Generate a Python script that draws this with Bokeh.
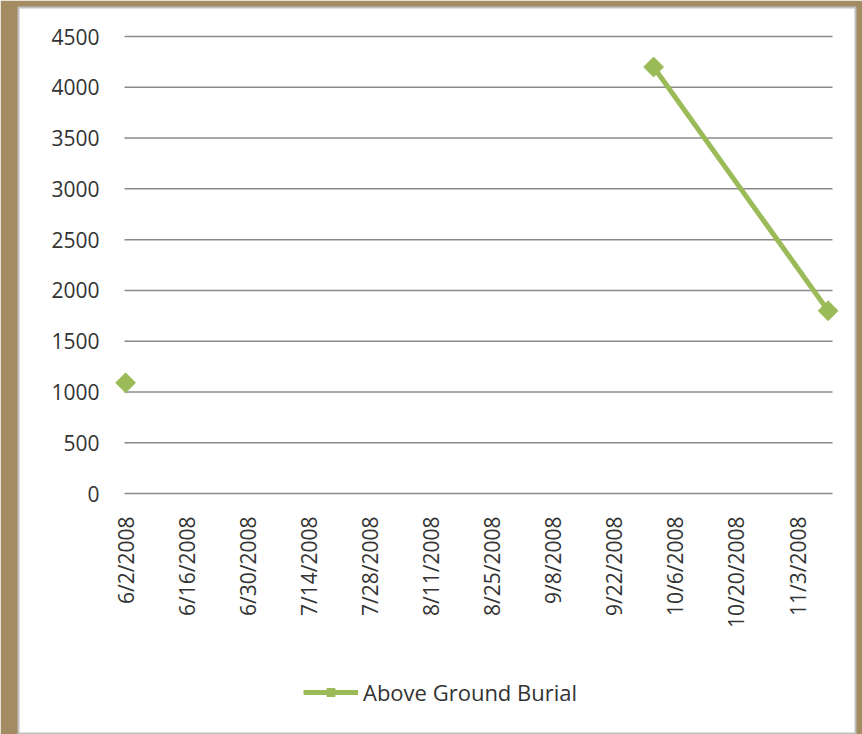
import math
from datetime import date, datetime
from bokeh.plotting import figure
from bokeh.models import Range1d, FixedTicker, Legend, LegendItem
from bokeh.embed import file_html
from bokeh.resources import INLINE

# ---- data ----
series_name = "Above Ground Burial"
point_dates = ["6/2/2008", "10/1/2008", "11/10/2008"]
point_values = [1090, 4200, 1800]
tick_labels = ["6/2/2008", "6/16/2008", "6/30/2008", "7/14/2008", "7/28/2008",
               "8/11/2008", "8/25/2008", "9/8/2008", "9/22/2008", "10/6/2008",
               "10/20/2008", "11/3/2008"]
y_ticks = [0, 500, 1000, 1500, 2000, 2500, 3000, 3500, 4000, 4500]

# date-axis limits (days after the first date)
x_lo, x_hi = -0.25, 162.0

base = date(2008, 6, 2)


def day_offset(s):
    return (datetime.strptime(s, "%m/%d/%Y").date() - base).days


xs = [day_offset(d) for d in point_dates]
tick_pos = [day_offset(d) for d in tick_labels]

GREEN = "#9bbb59"
GRID = "#8a8a8a"
TEXT = "#333333"
FONT = "Open Sans"

# The frame is the whole white chart area; axes sit inside it.
p = figure(width=862, height=734, output_backend="svg", toolbar_location=None,
           x_range=Range1d(-24.54, 167.27), y_range=Range1d(-2373, 4786),
           min_border_left=18, min_border_right=7, min_border_top=7,
           min_border_bottom=0)
p.background_fill_color = "white"
p.border_fill_color = "#a38c62"
p.outline_line_color = "#c0c0c0"
p.outline_line_width = 2

# no automatic grid; horizontal grid lines span only the date-axis extent
p.xgrid.visible = False
p.ygrid.visible = False
p.segment(x0=[x_lo] * len(y_ticks), x1=[x_hi] * len(y_ticks),
          y0=y_ticks, y1=y_ticks, line_color=GRID, line_width=1.5)

# y axis (fixed at the left end of the date axis)
p.yaxis.fixed_location = x_lo
p.yaxis.ticker = FixedTicker(ticks=y_ticks)
p.yaxis.axis_line_color = None
p.yaxis.major_tick_line_color = None
p.yaxis.minor_tick_line_color = None
p.yaxis.major_tick_out = 0
p.yaxis.major_tick_in = 0
p.yaxis.major_label_text_font = FONT
p.yaxis.major_label_text_font_size = "21px"
p.yaxis.major_label_text_color = TEXT
p.yaxis.major_label_standoff = 25

# x axis (fixed at value 0)
p.xaxis.fixed_location = 0
p.xaxis.ticker = FixedTicker(ticks=tick_pos)
p.xaxis.major_label_overrides = {tp: lab for tp, lab in zip(tick_pos, tick_labels)}
p.xaxis.major_label_orientation = math.pi / 2
p.xaxis.axis_line_color = None
p.xaxis.major_tick_line_color = None
p.xaxis.minor_tick_line_color = None
p.xaxis.major_tick_out = 0
p.xaxis.major_tick_in = 0
p.xaxis.major_label_text_font = FONT
p.xaxis.major_label_text_font_size = "21px"
p.xaxis.major_label_text_color = TEXT
p.xaxis.major_label_standoff = 23

# series: first point is isolated (gap), remaining points connected
ln = p.line(xs[1:], point_values[1:], line_color=GREEN, line_width=5)
sc = p.scatter(xs, point_values, marker="square", angle=math.pi / 4, size=14,
               fill_color=GREEN, line_color=GREEN)

legend = Legend(items=[LegendItem(label=series_name, renderers=[ln, sc])],
                location=(285, 27), orientation="horizontal",
                glyph_width=55, glyph_height=20, label_standoff=5,
                padding=0, margin=0, border_line_alpha=0,
                background_fill_alpha=0,
                label_text_font=FONT, label_text_font_size="22px",
                label_text_color=TEXT)
p.add_layout(legend)

open("out.html", "w").write(file_html(p, INLINE))
